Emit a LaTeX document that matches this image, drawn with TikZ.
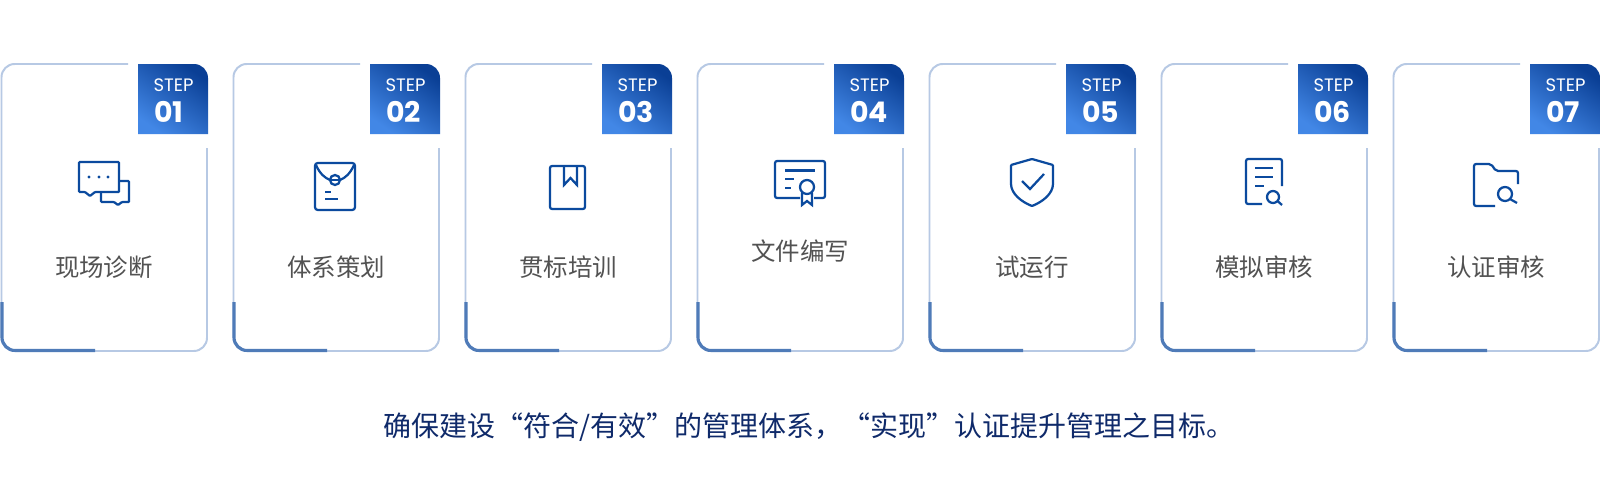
\documentclass[tikz,border=0pt]{standalone}
\usepackage{fontspec}
\setmainfont{Noto Sans CJK SC}
\newfontfamily\stepfont{Poppins}
\usetikzlibrary{positioning, calc}
\definecolor{cardLine}{HTML}{B7C9E4}
\definecolor{cardAccent}{HTML}{4F7BB8}
\definecolor{badgeDark}{HTML}{0A3F95}
\definecolor{badgeLight}{HTML}{4287E6}
\definecolor{iconBlue}{HTML}{0B4A9E}
\definecolor{slogan}{HTML}{0F2A6A}
\tikzset{
  cardline/.style={draw=cardLine, line width=1.4pt, rounded corners=0.33cm},
  cardaccent/.style={draw=cardAccent, line width=2.2pt, rounded corners=0.33cm},
  badgebox/.style={top color=badgeDark, bottom color=badgeLight, shading angle=-35},
  steptxt/.style={font=\stepfont\fontsize{12.8}{14}\selectfont, text=white, inner sep=0pt},
  stepnum/.style={font=\stepfont\bfseries\fontsize{20.2}{24}\selectfont, text=white, inner sep=0pt, anchor=west},
  cardlabel/.style={font=\fontsize{17.4}{20}\selectfont, text=black!68, inner sep=0pt},
  iconline/.style={draw=iconBlue, line width=1.6pt, rounded corners=0.6pt},
}

\begin{document}
\begin{tikzpicture}[x=0.025cm, y=-0.025cm]
  \useasboundingbox (0,0) rectangle (1600,500);
  \fill[white] (0,0) rectangle (1600,500);

  % Cards
  \foreach \n/\lab/\ly in {1/现场诊断/267, 2/体系策划/267, 3/贯标培训/267, 4/文件编写/251,
                           5/试运行/267, 6/模拟审核/267, 7/认证审核/267} {
    \begin{scope}[shift={({(\n-1)*232},0)}]
      \draw[cardline] (128,64) -- (1.5,64) -- (1.5,351) -- (207,351) -- (207,148);
      \draw[cardaccent] (2,302) -- (2,350.5) -- (95,350.5);
      \shade[badgebox] (138,134) -- (138,64) -- (194,64)
        arc[start angle=90, end angle=0, x radius=14, y radius=-14] -- (208,134) -- cycle;
      \node[steptxt] (stepword\n) at (173.5,85) {STEP};
      \node[stepnum] (stepnum\n) at (154,112) {0\n};
      \node[cardlabel] (label\n) at (104,\ly) {\lab};
    \end{scope}
  }

  % Icon 01
  \draw[iconline] (90,196) -- (85,192) -- (79,192) -- (79,162) -- (119,162) -- (119,192) -- (95,192) -- cycle;
  \draw[iconline] (119,181) -- (129,181) -- (129,202) -- (122,202) -- (118,205) -- (114,202) -- (101,202) -- (101,192);
  \foreach \dx in {89,99,108}
    \fill[iconBlue] (\dx,177) circle[radius=1.6];

  % Icon 02
  \draw[iconline, rounded corners=2pt] (315,163) rectangle (355,210);
  \draw[iconline] (316,165) .. controls (320,174) and (325,178) .. (330,180);
  \draw[iconline] (354,165) .. controls (350,174) and (345,178) .. (340,180);
  \draw[iconline] (335,180) circle[radius=5];
  \draw[iconline] (330,180) -- (340,180);
  \draw[iconline] (325,192) -- (331,192);
  \draw[iconline] (325,199) -- (338,199);

  % Icon 03
  \draw[iconline, rounded corners=1.5pt] (550,166) rectangle (585,209);
  \draw[iconline, rounded corners=0pt] (564,166) -- (564,185) -- (570.5,178) -- (577,185) -- (577,166);

  % Icon 04
  \draw[iconline, rounded corners=1.5pt] (800,198) -- (775,198) -- (775,161) -- (825,161) -- (825,198) -- (814,198);
  \draw[iconline] (785,170.5) -- (815,170.5);
  \draw[iconline] (785,179) -- (794,179);
  \draw[iconline] (785,188) -- (791,188);
  \draw[iconline] (807,187) circle[radius=7];
  \draw[iconline, rounded corners=0pt] (802,193) -- (802,205) -- (807,201) -- (812,205) -- (812,193);

  % Icon 05
  \draw[iconline] (1032,159) -- (1053,165) -- (1053,183) .. controls (1053,194) and (1042,202) .. (1032,206)
    .. controls (1022,202) and (1011,194) .. (1011,183) -- (1011,165) -- cycle;
  \draw[iconline, rounded corners=0pt] (1022,181) -- (1030,189) -- (1044,174);

  % Icon 06
  \draw[iconline, rounded corners=1.5pt] (1262,204) -- (1246,204) -- (1246,159) -- (1282,159) -- (1282,186);
  \draw[iconline] (1255,168) -- (1273,168);
  \draw[iconline] (1255,177) -- (1273,177);
  \draw[iconline] (1255,186) -- (1264,186);
  \draw[iconline] (1273,197) circle[radius=6];
  \draw[iconline] (1277.5,201) -- (1282,205);

  % Icon 07
  \draw[iconline, rounded corners=1.5pt] (1495,206) -- (1474,206) -- (1474,164) -- (1491,164) -- (1496,171) -- (1518,171) -- (1518,184);
  \draw[iconline] (1505,194) circle[radius=7];
  \draw[iconline] (1510,199) -- (1517,203);

  % Slogan
  \node[font=\fontsize{19.9}{24}\selectfont, text=slogan, inner sep=0pt] (slogan) at (809,427)
    {确保建设“符合/有效”的管理体系，“实现”认证提升管理之目标。};
\end{tikzpicture}
\end{document}
